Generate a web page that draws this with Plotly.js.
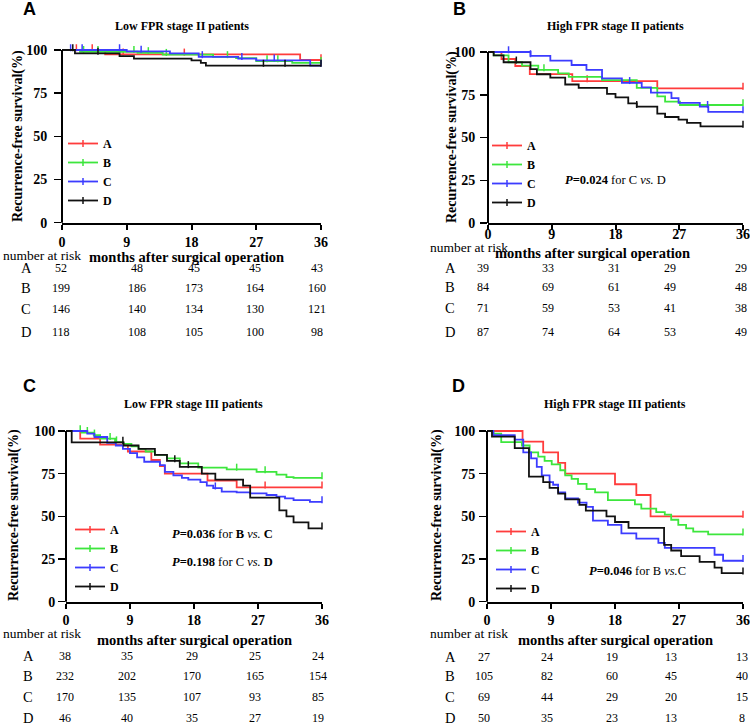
<!DOCTYPE html>
<html><head><meta charset="utf-8">
<script src="https://cdn.plot.ly/plotly-3.0.1.min.js"></script>
<style>html,body{margin:0;padding:0;background:#fff}</style>
</head><body><div id="chart" style="width:750px;height:725px"></div>
<script>
// ---------------- DATA ----------------
const months = [0, 9, 18, 27, 36];
const groups = ['A', 'B', 'C', 'D'];
const colors = ['#ff3c3c', '#3de63d', '#3c3cff', '#111111'];

// Panel A: Low FPR stage II
const lowII_A_t = [0, 6, 33.1];
const lowII_A_s = [100, 97.5, 94.2];
const lowII_A_c = [2, 4.2, 8.5, 17, 36];
const lowII_B_t = [0, 2.5, 10.5, 14, 21, 24.2, 27, 32];
const lowII_B_s = [100, 99, 98.3, 97.3, 96, 95.3, 93.6, 92.6];
const lowII_B_c = [3, 5, 10, 12, 14.5, 23, 28.5, 30, 36];
const lowII_C_t = [0, 9, 15, 19, 24.5, 27, 34.5];
const lowII_C_s = [100, 99.2, 98, 96, 95, 94, 91];
const lowII_C_c = [1.2, 2.8, 8, 11, 19.5, 25, 29.5, 36];
const lowII_D_t = [0, 1.8, 8, 10, 18, 19.3, 20];
const lowII_D_s = [100, 98, 96.5, 95, 94, 92.5, 91];
const lowII_D_c = [1.5, 5, 28, 31, 36];
const lowII_risk_A = [52, 48, 45, 45, 43];
const lowII_risk_B = [199, 186, 173, 164, 160];
const lowII_risk_C = [146, 140, 134, 130, 121];
const lowII_risk_D = [118, 108, 105, 100, 98];

// Panel B: High FPR stage II
const highII_A_t = [0, 1.9, 3.85, 5.9, 11.9, 23.9];
const highII_A_s = [100, 95.9, 91.8, 87.1, 83, 78.7];
const highII_A_c = [14, 36];
const highII_B_t = [0, 0.8, 2.9, 4.8, 7.1, 9.9, 11.4, 16.1, 21, 23.9, 25, 27.1];
const highII_B_s = [100, 98, 94, 92, 89.5, 87.5, 85.5, 83.5, 79, 74, 71, 69];
const highII_B_c = [7.9, 36];
const highII_C_t = [0, 6, 8.8, 11.8, 13.9, 16.1, 18.9, 21.7, 23, 25.9, 26.9, 29.9, 31.1];
const highII_C_s = [100, 97.7, 94.9, 92.4, 89.5, 84.6, 82, 79.3, 76.2, 73, 70.3, 68, 65];
const highII_C_c = [2.9, 6, 20, 31, 36];
const highII_D_t = [0, 0.8, 2.2, 6, 6.9, 8.8, 10.9, 12.8, 16.8, 18, 19.8, 21, 23.9, 25, 26.9, 28.1, 30];
const highII_D_s = [100, 98, 94, 90, 87, 85, 81, 79, 75.5, 73.5, 70, 68, 64, 62, 60.5, 58.5, 56.5];
const highII_D_c = [4, 21, 36];
const highII_risk_A = [39, 33, 31, 29, 29];
const highII_risk_B = [84, 69, 61, 49, 48];
const highII_risk_C = [71, 59, 53, 41, 38];
const highII_risk_D = [87, 74, 64, 53, 49];

// Panel C: Low FPR stage III
const lowIII_A_t = [0, 2, 4.8, 8.7, 12, 13.2, 13.9, 19.9, 24];
const lowIII_A_s = [100, 95.5, 92, 88, 83, 79.5, 75, 71, 67];
const lowIII_A_c = [28, 36];
const lowIII_B_t = [0, 2.2, 3.9, 4.8, 6.9, 8, 9.2, 10.2, 11.2, 12.5, 14.2, 16, 18.6, 22.6, 26.8, 29.6, 31, 32];
const lowIII_B_s = [100, 99, 97.5, 95.5, 93.5, 92.5, 91, 89.5, 88, 86, 84, 81, 78.5, 77.5, 76, 74.5, 73, 72.5];
const lowIII_B_c = [2, 3, 4, 6.2, 7.1, 24, 28, 36];
const lowIII_C_t = [0, 3, 4, 5.8, 7, 8, 9, 10, 11, 13.2, 13.9, 15.1, 16.3, 17.2, 18.9, 19.8, 20.7, 21.9, 24, 25.9, 28.2, 29.6, 30.8, 32, 34.3];
const lowIII_C_s = [100, 98.5, 96.5, 93, 91.5, 89.5, 87, 84.5, 82, 80, 76, 74, 72.5, 71.5, 70, 68, 66.5, 64.5, 64, 63.5, 62.5, 61.5, 60.5, 59.5, 58.5];
const lowIII_C_c = [21, 36];
const lowIII_D_t = [0, 0.8, 8.1, 10.2, 12.5, 14.2, 16, 19.1, 21, 24.9, 25.9, 30, 31, 32, 34.1];
const lowIII_D_s = [100, 93.3, 91.5, 89.5, 86, 82.5, 79, 75, 71.5, 68, 61, 53.5, 50, 46.5, 43];
const lowIII_D_c = [8, 15.3, 17.2, 36];
const lowIII_risk_A = [38, 35, 29, 25, 24];
const lowIII_risk_B = [232, 202, 170, 165, 154];
const lowIII_risk_C = [170, 135, 107, 93, 85];
const lowIII_risk_D = [46, 40, 35, 27, 19];

// Panel D: High FPR stage III
const highIII_A_t = [0, 5, 7.9, 10, 11, 18, 21, 23];
const highIII_A_s = [100, 93.8, 87.5, 81.3, 75, 68.8, 62.5, 50];
const highIII_A_c = [36];
const highIII_B_t = [0, 0.9, 2, 4.9, 6, 7.2, 8.1, 9.1, 10.3, 11, 11.9, 12.8, 14, 15.2, 17, 20.8, 21.7, 23.8, 25, 25.9, 26.9, 28, 29, 31.1];
const highIII_B_s = [100, 98.5, 93.5, 91.5, 87.5, 85, 82.5, 80.5, 77, 74, 72, 69, 66, 64, 59.5, 57, 54.5, 52.5, 51, 48, 45, 43, 41, 39.5];
const highIII_B_c = [36];
const highIII_C_t = [0, 0.9, 3.9, 5.1, 6.2, 7, 7.7, 8.8, 9.3, 10, 11, 12.8, 14, 14.9, 17, 18.9, 21, 24.1, 25, 32, 33.2];
const highIII_C_s = [100, 97.5, 95, 87.5, 84, 79, 74, 70, 68.5, 64, 60.5, 58, 55.5, 47.5, 45, 40, 37, 34.5, 31.5, 27.5, 24];
const highIII_C_c = [36];
const highIII_D_t = [0, 0.7, 3.9, 5.9, 7.9, 8.8, 10, 11, 13, 13.9, 16.8, 18, 19.9, 24.9, 25.9, 27.3, 29.9, 32, 33];
const highIII_D_s = [100, 96.7, 90, 73.3, 70, 66.7, 63.3, 60, 56.7, 53.3, 50, 46.7, 43.3, 33.3, 30, 26.7, 23.3, 20, 16.7];
const highIII_D_c = [36];
const highIII_risk_A = [27, 24, 19, 13, 13];
const highIII_risk_B = [105, 82, 60, 45, 40];
const highIII_risk_C = [69, 44, 29, 20, 15];
const highIII_risk_D = [50, 35, 23, 13, 8];

const panelTitles = ['Low FPR stage II patients', 'High FPR stage II patients', 'Low FPR stage III patients', 'High FPR stage III patients'];
const panelLetters = ['A', 'B', 'C', 'D'];
const pTexts = [
  [],
  ['<b><i>P</i>=0.024</b> for C <i>vs.</i> D'],
  ['<b><i>P</i>=0.036</b> for <b>B</b> <i>vs.</i> <b>C</b>', '<b><i>P</i>=0.198</b> for C <i>vs.</i> <b>D</b>'],
  ['<b><i>P</i>=0.046</b> for B <i>vs.</i>C']
];

const panelData = [
  {t: [lowII_A_t, lowII_B_t, lowII_C_t, lowII_D_t], s: [lowII_A_s, lowII_B_s, lowII_C_s, lowII_D_s], c: [lowII_A_c, lowII_B_c, lowII_C_c, lowII_D_c], risk: [lowII_risk_A, lowII_risk_B, lowII_risk_C, lowII_risk_D]},
  {t: [highII_A_t, highII_B_t, highII_C_t, highII_D_t], s: [highII_A_s, highII_B_s, highII_C_s, highII_D_s], c: [highII_A_c, highII_B_c, highII_C_c, highII_D_c], risk: [highII_risk_A, highII_risk_B, highII_risk_C, highII_risk_D]},
  {t: [lowIII_A_t, lowIII_B_t, lowIII_C_t, lowIII_D_t], s: [lowIII_A_s, lowIII_B_s, lowIII_C_s, lowIII_D_s], c: [lowIII_A_c, lowIII_B_c, lowIII_C_c, lowIII_D_c], risk: [lowIII_risk_A, lowIII_risk_B, lowIII_risk_C, lowIII_risk_D]},
  {t: [highIII_A_t, highIII_B_t, highIII_C_t, highIII_D_t], s: [highIII_A_s, highIII_B_s, highIII_C_s, highIII_D_s], c: [highIII_A_c, highIII_B_c, highIII_C_c, highIII_D_c], risk: [highIII_risk_A, highIII_risk_B, highIII_risk_C, highIII_risk_D]}
];

// ---------------- LAYOUT (pixel positions) ----------------
const W = 750, H = 725;
const X = px => px / W;
const Y = py => 1 - py / H;
const YMAX = 102;
const SERIF = 'Liberation Serif, Times New Roman, serif';
const SANS = 'Liberation Sans, Arial, sans-serif';

const P = [
  {xd: [62, 321], y0: 222.7, y100: 50, letter: [29, 9], title: [182, 26], ytitle: [18, 136], xtitle: [186, 257], nr: [41.5, 256],
   rl: 26, rows: [268, 288, 309, 332], shifts: [-1, 10, 2.5, -1, -4], leg: [103, 140], tls: 0, ytls: 4, pos: []},
  {xd: [488, 743], y0: 223, y100: 52, letter: [459, 9], title: [615, 26], ytitle: [452, 137], xtitle: [592, 253], nr: [469, 248],
   rl: 450, rows: [268, 287, 308, 332], shifts: [-5, -4, -2, -9, -2], leg: [527, 142], tls: -8, ytls: 2, pos: [[615, 180]]},
  {xd: [66, 322], y0: 601.7, y100: 431, letter: [29, 386], title: [193, 404], ytitle: [14, 515], xtitle: [194, 640], nr: [41.5, 633],
   rl: 28, rows: [656, 676, 697, 718], shifts: [-1, -3, -2, -3, -4], leg: [110, 526], tls: -1, ytls: 0, pos: [[222, 534], [222, 562]]},
  {xd: [487, 743], y0: 601.7, y100: 431, letter: [458, 386], title: [615, 404], ytitle: [437, 515], xtitle: [615, 640], nr: [469, 633],
   rl: 450, rows: [657, 676, 697, 718], shifts: [-3, -4, -3, -8, -1], leg: [531, 528], tls: -1, ytls: 1, pos: [[637, 571]]}
];

function stepAt(t, s, x) {
  let v = s[0];
  for (let i = 0; i < t.length; i++) { if (t[i] <= x) v = s[i]; }
  return v;
}

const traces = [];
const layout = {
  width: W, height: H, margin: {l: 0, r: 0, t: 0, b: 0},
  paper_bgcolor: '#fff', plot_bgcolor: 'rgba(0,0,0,0)',
  showlegend: true, annotations: [], shapes: [],
  font: {family: SERIF, color: '#000'}
};

P.forEach((p, k) => {
  const sfx = k === 0 ? '' : String(k + 1);
  const xa = 'x' + sfx, ya = 'y' + sfx;
  const legName = 'legend' + sfx;
  const d = panelData[k];
  const ppu = (p.y0 - p.y100) / 100;
  const yTop = p.y0 - YMAX * ppu;

  layout['xaxis' + sfx] = {
    domain: [X(p.xd[0]), X(p.xd[1])], range: [0, 36], anchor: ya,
    tickvals: months, ticktext: months.map(String), ticks: 'outside', ticklen: 5, tickwidth: 2, tickcolor: '#000',
    showline: true, linewidth: 2, linecolor: '#000', showgrid: false, zeroline: false, fixedrange: true,
    tickfont: {family: SERIF, size: 14, weight: 'bold', color: '#000'}, ticklabelstandoff: p.tls
  };
  layout['yaxis' + sfx] = {
    domain: [Y(p.y0), Y(yTop)], range: [0, YMAX], anchor: xa,
    tickvals: [0, 25, 50, 75, 100], ticks: 'outside', ticklen: 7, tickwidth: 1.5, tickcolor: '#000',
    showline: false, showgrid: false, zeroline: false, fixedrange: true,
    tickfont: {family: SERIF, size: 14, weight: 'bold', color: '#000'}, ticklabelstandoff: p.ytls
  };
  // y axis line from 0 to 100
  layout.shapes.push({type: 'line', xref: xa + ' domain', yref: ya + ' domain', x0: 0, x1: 0, y0: 0, y1: 100 / YMAX,
    line: {color: '#000', width: 2}});

  groups.forEach((g, i) => {
    const t = d.t[i], s = d.s[i];
    traces.push({
      type: 'scatter', mode: 'lines', xaxis: xa, yaxis: ya, showlegend: false, hoverinfo: 'skip',
      x: t.concat([36]), y: s.concat([s[s.length - 1]]),
      line: {shape: 'hv', color: colors[i], width: 1.8}
    });
    traces.push({
      type: 'scatter', mode: 'markers', xaxis: xa, yaxis: ya, showlegend: false, hoverinfo: 'skip', cliponaxis: false,
      x: d.c[i], y: d.c[i].map(c => stepAt(t, s, c) + 1.3),
      marker: {symbol: 'line-ns', size: 5, color: colors[i], line: {color: colors[i], width: 1.5}}
    });
    traces.push({
      type: 'scatter', mode: 'lines+markers', xaxis: xa, yaxis: ya, legend: legName, name: g,
      x: [null], y: [null], showlegend: true,
      line: {color: colors[i], width: 1.8},
      marker: {symbol: 'line-ns', size: 5, color: colors[i], line: {color: colors[i], width: 1.5}}
    });
    // risk table row
    layout.annotations.push({xref: 'paper', yref: 'paper', x: X(p.rl), y: Y(p.rows[i]), text: g, showarrow: false,
      xanchor: 'center', yanchor: 'middle', font: {family: SERIF, size: 14.5, color: '#000'}});
    d.risk[i].forEach((n, j) => {
      layout.annotations.push({xref: xa, yref: 'paper', x: months[j], xshift: p.shifts[j], y: Y(p.rows[i]), text: String(n),
        showarrow: false, xanchor: 'center', yanchor: 'middle', font: {family: SERIF, size: 12, color: '#000'}});
    });
  });

  layout[legName] = {
    x: X(p.leg[0] - 40), y: Y(p.leg[1] - 11), xanchor: 'left', yanchor: 'top',
    bgcolor: 'rgba(0,0,0,0)', borderwidth: 0,
    font: {family: SERIF, size: 12, weight: 'bold', color: '#000'}, itemclick: false, itemdoubleclick: false
  };

  const A = layout.annotations;
  A.push({xref: 'paper', yref: 'paper', x: X(p.letter[0]), y: Y(p.letter[1]), text: '<b>' + panelLetters[k] + '</b>', showarrow: false,
    xanchor: 'center', yanchor: 'middle', font: {family: SANS, size: 18, color: '#000'}});
  A.push({xref: 'paper', yref: 'paper', x: X(p.title[0]), y: Y(p.title[1]), text: '<b>' + panelTitles[k] + '</b>', showarrow: false,
    xanchor: 'center', yanchor: 'middle', font: {family: SERIF, size: 12, color: '#000'}});
  A.push({xref: 'paper', yref: 'paper', x: X(p.ytitle[0]), y: Y(p.ytitle[1]), text: '<b>Recurrence-free survival(%)</b>', showarrow: false,
    textangle: -90, xanchor: 'center', yanchor: 'middle', font: {family: SERIF, size: 14, color: '#000'}});
  A.push({xref: 'paper', yref: 'paper', x: X(p.xtitle[0]), y: Y(p.xtitle[1]), text: '<b>months after surgical operation</b>', showarrow: false,
    xanchor: 'center', yanchor: 'middle', font: {family: SERIF, size: 14.5, color: '#000'}});
  A.push({xref: 'paper', yref: 'paper', x: X(p.nr[0]), y: Y(p.nr[1]), text: 'number at risk', showarrow: false,
    xanchor: 'center', yanchor: 'middle', font: {family: SERIF, size: 13.5, color: '#000'}});
  pTexts[k].forEach((txt, q) => {
    A.push({xref: 'paper', yref: 'paper', x: X(p.pos[q][0]), y: Y(p.pos[q][1]), text: txt, showarrow: false,
      xanchor: 'center', yanchor: 'middle', font: {family: SERIF, size: 12.5, color: '#000'}});
  });
});

Plotly.newPlot('chart', traces, layout, {displayModeBar: false, staticPlot: true});
</script></body></html>
